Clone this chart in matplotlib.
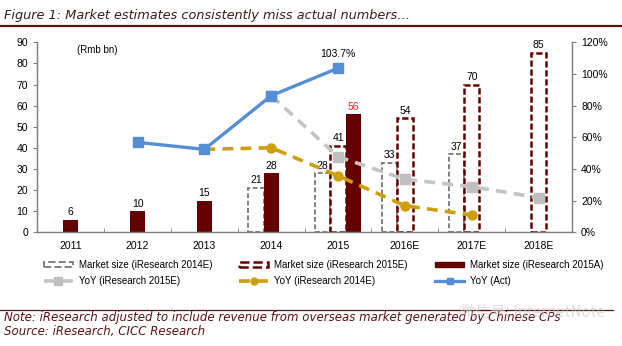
import numpy as np
import matplotlib.pyplot as plt
from matplotlib.lines import Line2D
from matplotlib.patches import Patch
from matplotlib.ticker import FuncFormatter

# Chart data (Rmb bn / %)
years = ['2011', '2012', '2013', '2014', '2015', '2016E', '2017E', '2018E']
size_2014e = [np.nan, np.nan, np.nan, 21, 28, 33, 37, np.nan]
size_2015e = [np.nan, np.nan, np.nan, np.nan, 41, 54, 70, 85]
size_actual = [6, 10, 15, 28, 56, np.nan, np.nan, np.nan]
yoy_act = [np.nan, 56.8, 52.4, 86.3, 103.7, np.nan, np.nan, np.nan]
yoy_2014e = [np.nan, np.nan, 52.4, 53.4, 35.7, 16.8, 10.9, np.nan]
yoy_2015e = [np.nan, np.nan, np.nan, 86.3, 47.8, 33.5, 28.8, 21.9]

GREY_BAR = '#808080'
MAROON = '#650000'
GREY_LINE = '#c4c4c4'
GOLD = '#cf9e0c'
BLUE = '#558ed5'
TXT = '#3a1c1c'

plt.rcParams['font.family'] = ['Liberation Sans', 'DejaVu Sans']

fig = plt.figure(figsize=(6.22, 3.46), dpi=100)
ax = fig.add_axes([0.06, 0.3286, 0.8596, 0.5491])
ax2 = ax.twinx()

x = np.arange(len(years))
w = 0.23

# bars: 2014E forecast left, 2015E forecast middle, actual in the middle (or right if 2015E exists)
ax.bar(x - w, size_2014e, w, fill=False, edgecolor=GREY_BAR, linewidth=1.4,
       linestyle=(0, (2.5, 1.3)))
ax.bar(x, size_2015e, w, fill=False, edgecolor=MAROON, linewidth=1.8,
       linestyle=(0, (2.5, 1.1)))
act_off = np.where(np.isnan(size_2015e), 0, w)
ax.bar(x + act_off, size_actual, w, color=MAROON)

# value labels
for i in range(len(years)):
    if not np.isnan(size_2014e[i]):
        ax.text(x[i] - w, size_2014e[i] + 1.2, '%d' % size_2014e[i], ha='center', va='bottom', fontsize=7.5)
    if not np.isnan(size_2015e[i]):
        ax.text(x[i], size_2015e[i] + 1.2, '%d' % size_2015e[i], ha='center', va='bottom', fontsize=7.5)
    if not np.isnan(size_actual[i]):
        c = '#e8262a' if i == 4 else 'black'
        ax.text(x[i] + act_off[i], size_actual[i] + 1.2, '%d' % size_actual[i], ha='center', va='bottom',
                fontsize=7.5, color=c)

# YoY lines on right axis
ax2.plot(x, yoy_2015e, color=GREY_LINE, lw=2.6, linestyle=(0, (3, 2)), marker='s', markersize=7,
         markerfacecolor='#bfbfbf', markeredgecolor='#bfbfbf')
ax2.plot(x, yoy_2014e, color=GOLD, lw=2.6, linestyle=(0, (3, 2)), marker='o', markersize=6.5,
         markerfacecolor=GOLD, markeredgecolor=GOLD)
ax2.plot(x, yoy_act, color=BLUE, lw=2.4, marker='s', markersize=6.5,
         markerfacecolor=BLUE, markeredgecolor=BLUE)
ax2.text(4, yoy_act[4] + 6, '103.7%', ha='center', va='bottom', fontsize=7.5)

ax.set_xlim(-0.5, 7.5)
ax.set_ylim(0, 90)
ax2.set_ylim(0, 120)
ax.set_yticks(range(0, 91, 10))
ax2.set_yticks(range(0, 121, 20))
ax2.yaxis.set_major_formatter(FuncFormatter(lambda v, p: '%d%%' % v))
ax.set_xticks(x)
ax.set_xticklabels(years)
ax.set_xticks(np.arange(0.5, 7, 1), minor=True)
ax.tick_params(axis='x', which='major', length=0, labelsize=7.5, pad=6)
ax.tick_params(axis='x', which='minor', length=3, direction='in', color=GREY_BAR)
ax.tick_params(axis='y', labelsize=7.5, length=3, color=GREY_BAR)
ax2.tick_params(axis='y', labelsize=7.5, length=3, color=GREY_BAR)

for a in (ax, ax2):
    a.spines['top'].set_visible(False)
    for s in ('left', 'right', 'bottom'):
        a.spines[s].set_color(GREY_BAR)
        a.spines[s].set_linewidth(0.9)

ax.text(0.075, 0.985, '(Rmb bn)', transform=ax.transAxes, fontsize=7, va='top')

# legend
handles = [
    Patch(facecolor='none', edgecolor=GREY_BAR, linestyle='--', linewidth=1.4),
    Line2D([], [], color=GREY_LINE, lw=2.6, linestyle=(0, (3, 2)), marker='s', markersize=5.5,
           markerfacecolor='#bfbfbf', markeredgecolor='#bfbfbf'),
    Patch(facecolor='none', edgecolor=MAROON, linestyle='--', linewidth=1.8),
    Line2D([], [], color=GOLD, lw=2.6, linestyle=(0, (3, 2)), marker='o', markersize=5,
           markerfacecolor=GOLD, markeredgecolor=GOLD),
    Patch(facecolor=MAROON, edgecolor=MAROON),
    Line2D([], [], color=BLUE, lw=2.4, marker='s', markersize=4.5,
           markerfacecolor=BLUE, markeredgecolor=BLUE),
]
labels = ['Market size (iResearch 2014E)', 'YoY (iResearch 2015E)',
          'Market size (iResearch 2015E)', 'YoY (iResearch 2014E)',
          'Market size (iResearch 2015A)', 'YoY (Act)']
fig.legend(handles, labels, ncol=3, loc='upper left', bbox_to_anchor=(0.07, 1 - 260 / 346),
           frameon=False, fontsize=7, handlelength=3.0, handleheight=0.55, handletextpad=0.6,
           columnspacing=2.8, labelspacing=0.6, borderpad=0, borderaxespad=0)

# title, rules and notes
fig.text(0.006, 1 - 15 / 346, 'Figure 1: Market estimates consistently miss actual numbers…',
         fontsize=9.3, style='italic', family='DejaVu Sans', va='center', color=TXT)
fig.add_artist(Line2D([0, 1], [1 - 26 / 346] * 2, color='#5a1414', lw=1.6))
fig.add_artist(Line2D([0, 0.985], [1 - 310 / 346] * 2, color='#5a1414', lw=0.9))
fig.text(0.006, 1 - 318 / 346, 'Note: iResearch adjusted to include revenue from overseas market generated by Chinese CPs',
         fontsize=8.5, style='italic', family='DejaVu Sans', va='center', color='#5a1414')
fig.text(0.006, 1 - 331 / 346, 'Source: iResearch, CICC Research',
         fontsize=8.5, style='italic', family='DejaVu Sans', va='center', color='#5a1414')
fig.text(0.74, 1 - 312 / 346, '微信号: InternetNote', fontsize=11,
         family=['Noto Sans CJK SC', 'DejaVu Sans'], va='center', color='#c8c8c8', alpha=0.6)

fig.savefig('out.png', dpi=100)
